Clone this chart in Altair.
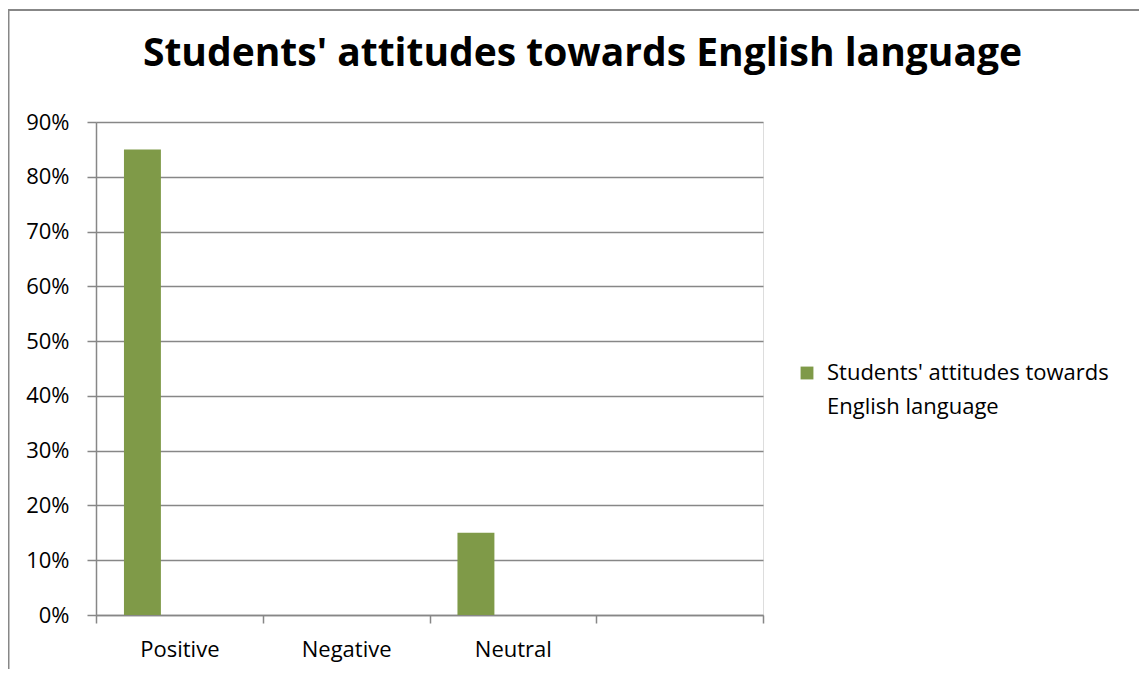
import altair as alt
import pandas as pd

categories = ["Positive", "Negative", "Neutral", " "]
values = [0.85, 0.0, 0.15, None]
series_name = "Students' attitudes towards English language"
offset_slots = [series_name, "s2", "s3"]
y_ticks = [0, 0.1, 0.2, 0.3, 0.4, 0.5, 0.6, 0.7, 0.8, 0.9]

df = pd.DataFrame({"category": categories, "value": values, "series": [series_name] * len(categories)})

FONT = "Open Sans"
GRID = "#878787"
BAR = "#7F9A48"

bars = alt.Chart(df).mark_bar(color=BAR).encode(
    x=alt.X("category:N", sort=categories, title=None,
            scale=alt.Scale(paddingInner=0, paddingOuter=0),
            axis=alt.Axis(labelAngle=0, tickBand="extent", labelFontSize=22, labelFont=FONT,
                          labelColor="black", labelPadding=16, tickSize=8, tickColor=GRID,
                          domainColor=GRID, tickWidth=1.5, domainWidth=1.5, grid=False)),
    xOffset=alt.XOffset("series:N", scale=alt.Scale(domain=offset_slots, paddingInner=0, paddingOuter=0.757)),
    y=alt.Y("value:Q", title=None,
            scale=alt.Scale(domain=[0, 0.9], nice=False),
            axis=alt.Axis(format=".0%", values=y_ticks, labelFontSize=22, labelFont=FONT,
                          labelColor="black", labelPadding=18, tickSize=9, tickColor=GRID,
                          domainColor=GRID, gridColor=GRID, tickWidth=1.5, domainWidth=1.5,
                          gridWidth=1.5)),
    color=alt.Color("series:N", scale=alt.Scale(domain=[series_name], range=[BAR]), title=None,
                    legend=alt.Legend(orient="none", legendX=700, legendY=240, symbolType="square",
                                      symbolSize=165, symbolStrokeWidth=0, labelFontSize=22,
                                      labelFont=FONT, labelColor="black", labelOffset=9,
                                      labelLimit=400, labelBaseline="middle",
                                      labelExpr="split(replace(datum.label, 'towards ', 'towards|'), '|')")),
)

frame_df = pd.DataFrame({"k": [1]})
top_line = alt.Chart(frame_df).mark_rule(color=GRID, strokeWidth=2).encode(
    x=alt.value(-88), x2=alt.value(1100), y=alt.value(-112))
left_line = alt.Chart(frame_df).mark_rule(color=GRID, strokeWidth=2).encode(
    x=alt.value(-87.5), y=alt.value(-112), y2=alt.value(600))

chart = alt.layer(bars, top_line, left_line).properties(
    width=667, height=493,
    autosize=alt.AutoSizeParams(type="none"),
    padding={"left": 88, "top": 114, "right": 376, "bottom": 54},
    title=alt.TitleParams(series_name, fontSize=39, font=FONT, fontWeight="bold", color="black",
                          anchor="middle", dx=153, offset=0, baseline="alphabetic", dy=96),
).configure_view(stroke=None).configure(
    background="white",
    style={"guide-label": {"lineHeight": 34}},
)

chart.save("out.html", embed_options={"renderer": "svg", "actions": False})
